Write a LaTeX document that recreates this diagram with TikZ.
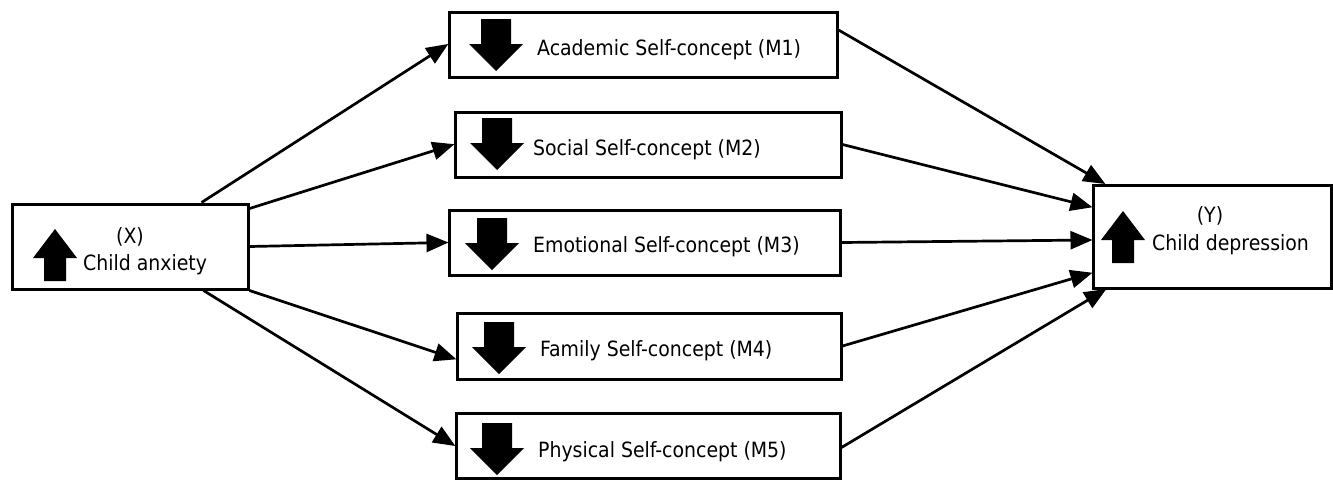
\documentclass[tikz,border=0pt]{standalone}
\usepackage{fontspec}
\setmainfont{DejaVu Sans Condensed}
\usetikzlibrary{arrows.meta,calc}
\tikzset{
  box/.style={draw, line width=3pt, inner sep=0pt, fill=white},
  lbl/.style={inner sep=0pt, font=\fontsize{21}{24}\selectfont},
  conn/.style={line width=2.7pt, -{Triangle[length=22pt,width=18pt]}, shorten >=-1pt},
  pics/downarr/.style={code={\fill[black] (-15,-26) -- (15,-26) -- (15,-1) -- (27,-1) -- (0,26) -- (-27,-1) -- (-15,-1) -- cycle;}},
  pics/uparr/.style={code={\fill[black] (-11,26) -- (11,26) -- (11,3) -- (22,3) -- (0,-26) -- (-22,3) -- (-11,3) -- cycle;}}
}
\begin{document}
\begin{tikzpicture}[x=1pt,y=-1pt]
\useasboundingbox[fill=white] (0,0) rectangle (1333,480);
% boxes
\node[box, minimum width=236pt, minimum height=85pt] (X) at (130,246.5) {};
\node[box, minimum width=388pt, minimum height=65pt] (M1) at (643,44.5) {};
\node[box, minimum width=386pt, minimum height=65pt] (M2) at (648,144.5) {};
\node[box, minimum width=391pt, minimum height=65pt] (M3) at (644.5,242.5) {};
\node[box, minimum width=384pt, minimum height=66pt] (M4) at (649,346) {};
\node[box, minimum width=384pt, minimum height=65pt] (M5) at (648,445.5) {};
\node[box, minimum width=238pt, minimum height=103pt] (Y) at (1212,236.5) {};
% block arrows
\pic at (55,255) {uparr};
\pic at (1123,237) {uparr};
\pic at (496,45) {downarr};
\pic at (497,144) {downarr};
\pic at (492,244) {downarr};
\pic at (499,348) {downarr};
\pic at (497,449) {downarr};
% labels
\node[lbl, anchor=base] (xl1) at (130,243) {(X)};
\node[lbl, anchor=base west] (xl2) at (83,270) {Child anxiety};
\node[lbl, anchor=base] (yl1) at (1210,222) {(Y)};
\node[lbl, anchor=base west] (yl2) at (1152,250) {Child depression};
\node[lbl, anchor=base west] (m1l) at (537,55) {Academic Self-concept (M1)};
\node[lbl, anchor=base west] (m2l) at (533,155) {Social Self-concept (M2)};
\node[lbl, anchor=base west] (m3l) at (533,252) {Emotional Self-concept (M3)};
\node[lbl, anchor=base west] (m4l) at (540,356) {Family Self-concept (M4)};
\node[lbl, anchor=base west] (m5l) at (538,457) {Physical Self-concept (M5)};
% connectors
\draw[conn] ([xshift=-48pt]X.north east) -- (M1.west);
\draw[conn] ([yshift=-6pt]X.north east) -- (M2.west);
\draw[conn] (X.east) -- (M3.west);
\draw[conn] (X.south east) -- ([yshift=-13pt]M4.west);
\draw[conn] ([xshift=-46pt]X.south east) -- (M5.west);
\draw[conn] ([yshift=14.5pt]M1.east) -- ([xshift=13pt]Y.north west);
\draw[conn] (M2.east) -- ([yshift=29.5pt]Y.west);
\draw[conn] (M3.east) -- ([yshift=-3.5pt]Y.west);
\draw[conn] (M4.east) -- ([yshift=-36.5pt]Y.west);
\draw[conn] ([yshift=-2pt]M5.east) -- ([xshift=14pt]Y.south west);
\end{tikzpicture}
\end{document}
